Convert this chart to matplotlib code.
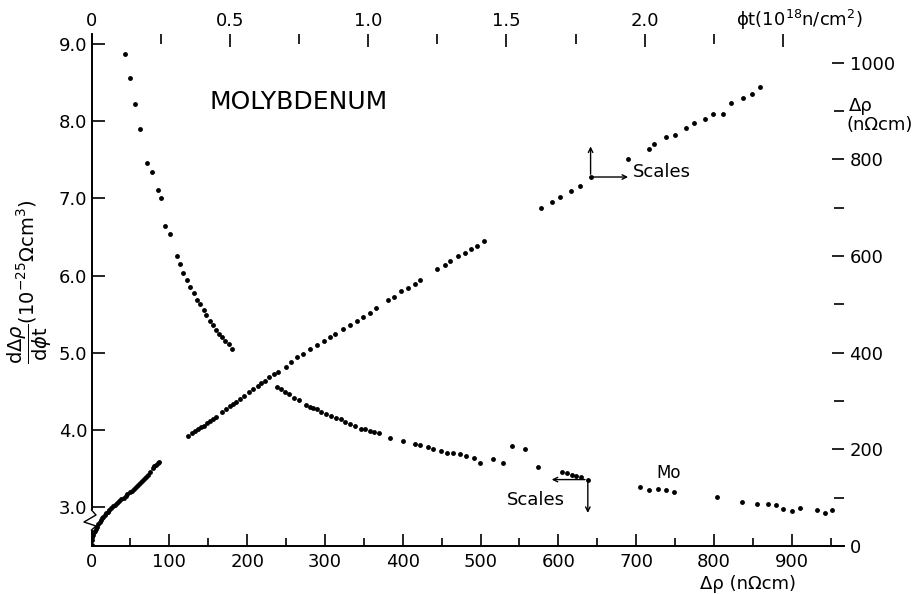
import matplotlib
matplotlib.use("Agg")
import matplotlib.pyplot as plt
from matplotlib.ticker import MultipleLocator, FixedLocator

# ---- Data: dΔρ/dφt vs Δρ (left / bottom axes) ----
drho_upper = [43, 49.5, 56, 62.8, 71.3, 77.8, 85.9, 89.7, 94.9, 100.9, 109.9, 114.2,
              117.2, 122.4, 127.0, 131.7, 135.6, 139.5, 144.2, 147.6, 152.7, 156.2,
              160.4, 164.3, 168.1, 172.0, 176.3, 180.6]
deriv_upper = [8.87, 8.56, 8.23, 7.90, 7.46, 7.34, 7.11, 7.01, 6.65, 6.54, 6.26, 6.15,
               6.04, 5.94, 5.85, 5.77, 5.68, 5.63, 5.55, 5.49, 5.41, 5.36,
               5.30, 5.25, 5.20, 5.15, 5.11, 5.05]
drho_lower = [238.0, 243.2, 248.7, 254.2, 260.3, 266.3, 275.7, 280.8, 285.1, 289.8,
              295.0, 301.0, 307.8, 314.3, 320.3, 326.2, 332.6, 338.3, 346.4, 351.5,
              358.0, 363.5, 369.5, 384.1, 400.0, 415.4, 422.2, 432.5, 439.3, 449.2,
              456.9, 464.7, 473.7, 481.0, 491.3, 499.4, 516.5, 528.5, 540.9, 556.8,
              573.5, 605.1, 610.8, 617.2, 622.8, 628.8, 637.8,
              705.0, 717.0, 727.8, 738.4, 748.7, 804.4, 836.5, 855.0, 869.1, 879.4,
              889.2, 900.4, 911.1, 932.9, 943.2, 952.2]
deriv_lower = [4.56, 4.53, 4.49, 4.47, 4.42, 4.39, 4.33, 4.30, 4.29, 4.28,
               4.24, 4.21, 4.18, 4.16, 4.14, 4.11, 4.08, 4.06, 4.02, 4.01,
               3.99, 3.98, 3.96, 3.90, 3.86, 3.82, 3.81, 3.78, 3.76, 3.73,
               3.71, 3.70, 3.69, 3.66, 3.64, 3.57, 3.63, 3.58, 3.80, 3.75,
               3.52, 3.46, 3.44, 3.42, 3.40, 3.39, 3.36,
               3.26, 3.23, 3.24, 3.22, 3.20, 3.14, 3.07, 3.05, 3.05, 3.03,
               2.98, 2.95, 2.99, 2.97, 2.93, 2.96]

# ---- Data: Δρ vs φt (top / right axes) ----
fluence = [0.0, 0.0, 0.002, 0.005, 0.008, 0.012, 0.015, 0.019, 0.024, 0.029, 0.034,
           0.039, 0.043, 0.048, 0.053, 0.058, 0.064, 0.070, 0.077, 0.084, 0.092,
           0.100, 0.108, 0.116, 0.123, 0.130, 0.138, 0.145, 0.153, 0.160, 0.168,
           0.175, 0.183, 0.191, 0.198, 0.205, 0.213, 0.221, 0.227, 0.233, 0.239, 0.245,
           0.348, 0.362, 0.375, 0.386, 0.395, 0.405, 0.417, 0.429, 0.439, 0.451,
           0.470, 0.486, 0.499, 0.510, 0.523, 0.538, 0.553, 0.568, 0.583, 0.601,
           0.612, 0.626, 0.641, 0.661, 0.673, 0.702, 0.721, 0.744, 0.766, 0.791,
           0.815, 0.839, 0.862, 0.880, 0.909, 0.934, 0.958, 0.981, 1.005, 1.028,
           1.071, 1.093, 1.118, 1.143, 1.168, 1.189,
           1.250, 1.278, 1.296, 1.324, 1.349, 1.371, 1.395, 1.418,
           1.623, 1.663, 1.695, 1.735, 1.765, 1.804,
           1.940, 2.016, 2.033, 2.078, 2.108, 2.148, 2.178, 2.216, 2.245, 2.283,
           2.311, 2.354, 2.387, 2.418]
resist = [2, 12, 18, 23, 28, 32, 36, 40, 45, 49, 53,
          57, 61, 64, 68, 71, 75, 78, 82, 85, 89,
          93, 97, 100, 104, 107, 111, 114, 118, 121, 126,
          130, 134, 138, 143, 147, 154, 161, 165, 168, 171, 174,
          227.5, 233, 238, 242, 245.5, 249, 254, 258.5, 262.7, 267.4,
          277.8, 283.4, 289.6, 294.3, 298.5, 304, 310.9, 317.9, 324.7, 331.5,
          336.5, 340.6, 349.5, 355.7, 360.5, 370.8, 380.6, 390.3, 396.5, 407.4,
          415, 424, 432.9, 439, 448.8, 457.7, 466, 474.3, 482.5, 492.2,
          508.8, 515, 527.4, 533.6, 541.9, 550.2,
          573.5, 581.8, 588.8, 599.8, 606.6, 614.9, 621.1, 630.2,
          698.4, 711.5, 721.2, 734.2, 744, 763.2,
          799.8, 820.5, 831.4, 845.9, 850.7, 863.9, 874.3, 883.8, 892.9, 894.1,
          916.9, 927.2, 934.9, 948.7]

bottom_ticks = [0, 100, 200, 300, 400, 500, 600, 700, 800, 900]
left_ticks = [3.0, 4.0, 5.0, 6.0, 7.0, 8.0, 9.0]
top_ticks = [0, 0.5, 1.0, 1.5, 2.0, 2.5]
top_labels = ["0", "0.5", "1.0", "1.5", "2.0", ""]
right_ticks = [0, 200, 400, 600, 800, 1000]

W, H = 921, 594
fig = plt.figure(figsize=(W / 100, H / 100), dpi=100)
pos = [91.5 / W, (H - 546) / H, (844 - 91.5) / W, (546 - 34) / H]
ax = fig.add_axes(pos)
ax2 = fig.add_axes(pos, frameon=False)

fs = 13
ms = 3.5
# primary axes
ax.plot(drho_upper, deriv_upper, 'o', color='black', ms=ms, mew=0)
ax.plot(drho_lower, deriv_lower, 'o', color='black', ms=ms, mew=0)
ax.set_xlim(0, 967)
ax.set_ylim(2.5, 9.13)
ax.xaxis.set_major_locator(FixedLocator(bottom_ticks))
ax.xaxis.set_minor_locator(MultipleLocator(50))
ax.set_yticks(left_ticks)
ax.set_yticklabels([f"{v:.1f}" for v in left_ticks])
ax.tick_params(axis='both', which='major', direction='in', length=9, width=1.2,
               labelsize=fs)
ax.tick_params(axis='x', which='major', pad=5)
ax.tick_params(axis='y', which='major', pad=3)
ax.tick_params(axis='x', which='minor', direction='in', length=6, width=1.2)
ax.spines['top'].set_visible(False)
ax.spines['right'].set_visible(False)
for s in ['left', 'bottom']:
    ax.spines[s].set_linewidth(1.4)

# secondary axes (top / right)
ax2.plot(fluence, resist, 'o', color='black', ms=ms, mew=0)
ax2.set_xlim(0, 2.72)
ax2.set_ylim(0, 1059)
ax2.patch.set_visible(False)
ax2.xaxis.tick_top()
ax2.yaxis.tick_right()
ax2.set_xticks(top_ticks)
ax2.set_xticklabels(top_labels)
ax2.xaxis.set_minor_locator(MultipleLocator(0.25))
ax2.set_yticks(right_ticks)
ax2.set_yticklabels([str(v) for v in right_ticks])
ax2.yaxis.set_minor_locator(MultipleLocator(100))
ax2.tick_params(axis='both', which='major', direction='in', length=9, width=1.2,
                labelsize=fs)
ax2.tick_params(axis='x', which='major', pad=3)
ax2.tick_params(axis='y', which='major', pad=4)
ax2.tick_params(axis='both', which='minor', direction='in', length=7, width=1.2)
ax2.spines['top'].set_visible(True)
ax2.spines['right'].set_visible(True)
ax2.spines['top'].set_linewidth(1.4)
ax2.spines['right'].set_linewidth(1.4)
ax2.spines['left'].set_visible(False)
ax2.spines['bottom'].set_visible(False)

# axis labels
fig.text(30 / W, 1 - 282 / H,
         r'$\dfrac{\mathrm{d}\Delta\rho}{\mathrm{d}\phi\mathrm{t}}$'
         + '(10$^{-25}$Ωcm$^3$)',
         rotation=90, ha='center', va='center', fontsize=14)
fig.text(748 / W, 1 - 584 / H, 'Δρ (nΩcm)', ha='center', va='center', fontsize=fs)
fig.text(849 / W, 1 - 106 / H, 'Δρ', ha='left', va='center', fontsize=fs)
fig.text(846 / W, 1 - 125 / H, '(nΩcm)', ha='left', va='center', fontsize=fs)
fig.text(799 / W, 1 - 20 / H, 'ϕt(10$^{18}$n/cm$^2$)', ha='center', va='center',
         fontsize=fs)

# annotations
ax.text(152, 8.25, 'MOLYBDENUM', fontsize=18, ha='left', va='center')
ax.text(741, 3.45, 'Mo', fontsize=12, ha='center', va='center')
ax.text(696, 7.34, 'Scales', fontsize=13, ha='left', va='center')
ax.text(534, 3.10, 'Scales', fontsize=13, ha='left', va='center')

ap = dict(arrowstyle='<-', color='black', lw=1.0, shrinkA=0, shrinkB=2,
          mutation_scale=8)
ax2.annotate('', xy=(1.804, 763.2), xytext=(0, 22), textcoords='offset points',
             arrowprops=ap)
ax2.annotate('', xy=(1.804, 763.2), xytext=(27, 0), textcoords='offset points',
             arrowprops=ap)
ax.annotate('', xy=(637.8, 3.36), xytext=(-26, 0), textcoords='offset points',
            arrowprops=ap)
ax.annotate('', xy=(637.8, 3.36), xytext=(0, -24), textcoords='offset points',
            arrowprops=ap)

# axis break symbol on left axis
def fx(px):
    return px / W

def fy(py):
    return 1 - py / H

fig.add_artist(plt.Line2D([fx(91.5), fx(91.5)], [fy(512), fy(528)], color='white',
                          lw=3, zorder=10))
fig.add_artist(plt.Line2D([fx(91.5), fx(96), fx(84), fx(96), fx(91.5)],
                          [fy(510), fy(515), fy(522), fy(526), fy(530)],
                          color='black', lw=1.0, zorder=11))

fig.savefig('out.png', dpi=100)
